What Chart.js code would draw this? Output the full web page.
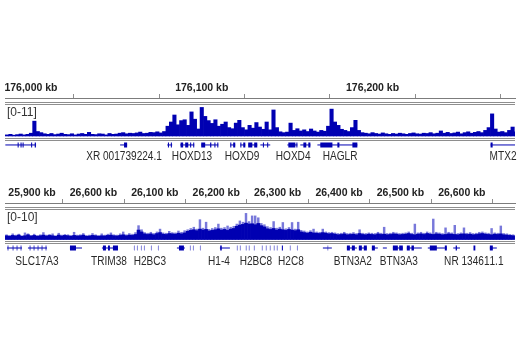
<!DOCTYPE html>
<html>
<head>
<meta charset="utf-8">
<script src="https://cdn.jsdelivr.net/npm/chart.js@4.4.1/dist/chart.umd.min.js"></script>
<style>
  html, body { margin: 0; padding: 0; background: #fff; }
  #wrap { position: relative; width: 520px; height: 350px; }
  canvas { position: absolute; left: 0; }
  #topChart { top: 62px; }
  #bottomChart { top: 166px; }
</style>
</head>
<body>
<div id="wrap">
  <canvas id="topChart" width="520" height="104"></canvas>
  <canvas id="bottomChart" width="520" height="108"></canvas>
</div>
<script>
// ---- top track (chr2, HOXD locus) ----
const topRangeKb = [175984.8, 176283.4];
const topTickValues = [176000, 176050, 176100, 176150, 176200, 176250];
const topTickLabels = ['176,000 kb', '', '176,100 kb', '', '176,200 kb', ''];
const topTrackLabel = '[0-11]';
const topBinStartKb = 175985;
const topBinKb = 2;
const topSignal = [
  0.4, 0.6, 0.3, 0.5, 0.7, 0.4, 0.6, 1.0, 5.3, 1.6, 1.2,
  0.8, 0.6, 0.9, 0.5, 0.7, 1.0, 0.6, 0.5, 0.8, 0.4, 0.7, 0.9, 0.6,
  1.3, 0.6, 0.5, 0.8, 0.7, 0.4, 0.9, 0.6, 0.7, 1.0,
  1.2, 0.8, 1.0, 0.9, 1.1, 1.4, 0.9, 1.0, 1.3, 1.2, 1.5, 1.1, 1.6,
  3.5, 5.0, 7.5, 4.0, 5.5, 5.8, 3.8, 8.6, 6.0, 2.5, 10.2, 7.0, 5.5, 4.5,
  5.8, 3.5, 4.2, 5.0, 3.0, 2.6, 4.6, 5.6, 3.0, 2.2, 3.8, 2.8, 4.8, 3.2,
  2.4, 5.0, 2.2, 9.3, 3.0, 1.5, 1.2, 1.4, 4.6, 2.0, 2.6, 1.8, 2.2, 1.6,
  2.5, 1.8, 1.4, 2.0, 1.7, 3.5, 9.6, 5.0, 3.8, 2.4, 2.0, 1.6, 3.0, 5.6, 2.0, 1.2,
  1.0, 0.8, 1.2, 0.9, 0.7, 1.1, 0.8, 0.6, 0.9, 0.7, 1.0, 0.8, 0.6, 0.9, 1.1,
  0.8, 0.7, 1.0, 0.9, 1.2, 0.8, 1.0,
  1.8, 1.0, 1.3, 0.9, 1.1, 1.4, 0.8, 1.2, 1.5, 1.0, 1.3, 1.6, 1.2, 2.0,
  3.0, 7.9, 2.5, 1.4, 1.6, 1.2, 2.0, 3.2, 1.5
];
const topIntrons = [
  [175985, 176003], [176052.2, 176056.3], [176079.8, 176082.7], [176087.4, 176095.6],
  [176099.7, 176109.7], [176116.7, 176119.6], [176122.6, 176125.5], [176127.2, 176132.5],
  [176134.3, 176140.1], [176150.1, 176156.0], [176157.7, 176163.6], [176167.7, 176191.1],
  [176269.1, 176283.8]
];
const topExons = [
  [175992.2, 175992.8], [175993.9, 175994.5], [175995.1, 175995.7], [176000.1, 176000.7],
  [176002.2, 176002.9], [176054.5, 176056.3], [176080.2, 176080.8], [176081.9, 176082.5],
  [176087.6, 176089.1], [176090.3, 176092.1], [176093.2, 176093.8], [176095.0, 176095.6],
  [176099.7, 176102.0], [176104.9, 176105.6], [176107.4, 176108.0], [176109.1, 176109.7],
  [176116.7, 176117.3], [176118.4, 176119.6], [176122.6, 176123.2], [176124.3, 176125.5],
  [176127.2, 176129.6], [176130.7, 176132.5], [176135.8, 176136.4], [176138.3, 176138.9],
  [176150.7, 176154.8], [176155.4, 176156.0], [176159.5, 176161.2], [176162.4, 176163.6],
  [176169.4, 176176.5], [176179.4, 176180.6], [176188.2, 176191.1], [176269.1, 176270.3]
];
const topGeneNames = ['XR 001739224.1', 'HOXD13', 'HOXD9', 'HOXD4', 'HAGLR', 'MTX2'];
const topGeneKb = [176054.5, 176094.3, 176123.6, 176153.5, 176181.0, 176276.4];

// ---- bottom track (chr6, histone cluster) ----
const bottomRangeKb = [25856, 26686.6];
const bottomTickValues = [25900, 26000, 26100, 26200, 26300, 26400, 26500, 26600];
const bottomTickLabels = ['25,900 kb', '26,600 kb', '26,100 kb', '26,200 kb',
  '26,300 kb', '26,400 kb', '26,500 kb', '26,600 kb'];
const bottomTrackLabel = '[0-10]';
const bottomBinStartKb = 25856;
const bottomBinKb = 5;
const bottomMean = [
  1.2, 1.0, 1.3, 1.1, 1.4, 1.0, 1.2, 1.5, 1.1, 1.3,
  1.0, 1.2, 1.4, 1.1, 1.3, 1.2, 1.0, 1.4, 1.1, 1.3,
  1.2, 1.0, 1.3, 1.1, 1.2, 1.4, 1.0, 1.1, 1.3, 1.2,
  1.0, 1.2, 1.1, 1.3, 1.4, 1.2, 1.1, 1.3, 1.5, 1.2,
  1.4, 1.3, 1.6, 3.0, 2.4, 1.8,
  1.6, 1.8, 1.5, 1.9, 2.2, 1.7, 1.6, 1.9, 1.8, 1.7, 2.0, 1.8, 2.1,
  2.6, 2.9, 3.1, 2.8, 3.3, 3.0, 3.2, 2.7, 2.9, 3.1, 3.4, 3.0, 3.2, 2.9, 3.3, 3.5,
  4.2, 4.6, 4.8, 5.2, 4.9, 5.0, 4.7, 5.1, 4.4, 4.0,
  3.4, 3.2, 3.5, 3.0, 3.3, 3.1, 2.9, 3.2, 3.0, 2.8, 3.1,
  2.4, 2.2, 2.0, 2.3, 2.1, 2.0, 1.9, 2.2, 2.0, 1.8, 1.9,
  1.7, 1.5, 1.6, 1.8, 1.5, 1.6, 1.7, 1.5, 1.9, 1.6,
  1.5, 1.7, 1.6, 1.5, 1.8, 1.6, 1.7, 1.5, 1.6, 1.8,
  1.7, 1.5, 1.6, 1.7, 1.9, 1.6, 1.5, 1.7, 1.8, 1.6,
  1.9, 1.7, 1.6, 1.8, 1.7, 1.5, 1.6, 1.8, 1.7, 1.6,
  1.5, 1.7, 1.8, 1.6, 1.7, 1.5, 1.6, 1.8, 1.9, 1.7,
  1.6, 1.5, 1.7, 1.6, 1.8, 1.5, 1.4, 1.3, 1.2
];
const bottomMax = [
  1.6, 1.4, 1.9, 1.5, 1.8, 1.3, 2.2, 1.9, 1.4, 1.8,
  1.4, 1.6, 2.3, 1.5, 1.7, 1.9, 1.3, 2.1, 1.5, 1.7,
  1.6, 1.4, 2.4, 1.5, 1.6, 2.0, 1.4, 1.5, 2.0, 1.6,
  1.4, 1.9, 1.5, 1.8, 2.2, 1.6, 1.5, 1.9, 2.5, 1.6,
  2.0, 1.8, 2.3, 4.5, 3.2, 2.3,
  2.1, 2.4, 2.0, 2.5, 3.4, 2.2, 2.1, 2.7, 2.3, 2.2, 2.8, 2.4, 2.9,
  3.2, 3.6, 4.0, 3.4, 6.4, 3.7, 5.6, 3.3, 3.6, 3.9, 5.0, 3.7, 3.9, 4.4, 4.0, 4.3,
  5.0, 6.0, 5.6, 8.4, 5.8, 7.6, 7.6, 7.0, 5.2, 4.8,
  4.2, 3.9, 5.8, 3.7, 4.0, 5.5, 3.5, 3.9, 5.5, 3.4, 5.6,
  3.0, 2.8, 2.5, 2.9, 3.4, 2.5, 2.4, 3.4, 2.5, 2.3, 2.4,
  2.2, 2.0, 2.1, 2.4, 2.0, 2.1, 2.3, 2.0, 3.2, 2.1,
  2.0, 2.2, 2.1, 2.0, 2.4, 2.1, 4.0, 2.0, 2.1, 2.4,
  2.2, 2.0, 2.1, 2.2, 2.5, 2.1, 5.0, 2.2, 2.4, 2.1,
  2.5, 2.2, 6.6, 2.4, 2.2, 2.0, 3.8, 2.4, 2.2, 4.6,
  2.0, 2.2, 3.8, 2.1, 2.3, 2.0, 2.1, 2.4, 2.5, 2.2,
  2.1, 3.6, 2.2, 2.1, 4.4, 2.0, 1.9, 1.7, 1.6
];
const bottomIntrons = [
  [25859.3, 25883.7], [25893.4, 25924.4], [25961.8, 25981.4], [26013.9, 26040.0],
  [26136.0, 26149.0], [26206.0, 26222.3], [26373.7, 26388.3], [26412.8, 26429.1],
  [26432.3, 26445.3], [26453.5, 26463.2], [26471.4, 26477.9], [26487.7, 26503.9],
  [26510.4, 26534.8], [26544.6, 26575.6], [26586.0, 26597.0], [26645.6, 26657.0]
];
const bottomExons = [
  [25860.3, 25861.5], [25868.5, 25869.7], [25875.0, 25876.2], [25881.5, 25882.7],
  [25896.2, 25897.4], [25902.7, 25903.9], [25909.2, 25910.4], [25915.7, 25916.9],
  [25922.2, 25923.4], [25961.8, 25971.6], [26015.5, 26020.4], [26023.7, 26026.9],
  [26031.8, 26040.0], [26066.0, 26066.8], [26070.9, 26071.7], [26077.4, 26078.2],
  [26082.3, 26083.1], [26093.7, 26094.5], [26105.1, 26105.9], [26139.3, 26147.4],
  [26157.2, 26158.0], [26162.1, 26162.9], [26173.5, 26174.3], [26206.5, 26209.0],
  [26233.7, 26234.5], [26238.6, 26239.4], [26248.3, 26249.1], [26253.2, 26254.0],
  [26261.4, 26262.2], [26274.4, 26275.2], [26280.9, 26281.7], [26287.4, 26288.2],
  [26293.9, 26294.7], [26298.8, 26299.6], [26306.9, 26308.6], [26320.0, 26320.8],
  [26331.5, 26332.3], [26381.5, 26382.3], [26412.8, 26417.7], [26420.9, 26425.8],
  [26432.3, 26437.2], [26440.4, 26445.3], [26453.5, 26458.4], [26487.7, 26495.8],
  [26498.0, 26503.9], [26510.4, 26515.3], [26518.0, 26522.0], [26547.9, 26559.3],
  [26572.3, 26575.6], [26590.0, 26592.0], [26619.0, 26622.0], [26645.6, 26650.5]
];
const bottomGeneNames = ['SLC17A3', 'TRIM38', 'H2BC3', 'H1-4', 'H2BC8', 'H2C8',
  'BTN3A2', 'BTN3A3', 'NR 134611.1'];
const bottomGeneKb = [25908.0, 26025.3, 26092.0, 26204.4, 26264.6, 26321.6,
  26422.5, 26497.4, 26619.5];

const BLUE = 'rgb(0,0,178)';
const LIGHT_BLUE = 'rgb(120,120,218)';
const GRAY = '#8e8e8e';

Chart.defaults.font.family = "'Liberation Sans', Arial, sans-serif";

function segments(list, y) {
  const pts = [];
  list.forEach(([s, e]) => {
    pts.push({ x: s, y: y }, { x: e, y: y }, { x: e, y: null });
  });
  return pts;
}

function bins(values, start, size) {
  return values.map((v, i) => ({ x: start + size * (i + 0.5), y: v }));
}

const trackDecor = {
  id: 'trackDecor',
  afterDatasetsDraw(chart, args, o) {
    const { ctx, chartArea: a, scales: { x, y } } = chart;
    ctx.save();
    ctx.strokeStyle = GRAY;
    ctx.lineWidth = 1;
    const hline = py => {
      ctx.beginPath();
      ctx.moveTo(a.left, py);
      ctx.lineTo(a.right, py);
      ctx.stroke();
    };
    const base = Math.round(y.getPixelForValue(0));
    hline(a.top + 4.5);
    hline(a.top + 6.5);
    hline(base + 2.5);
    hline(base + 4.5);

    ctx.fillStyle = '#333';
    ctx.textBaseline = 'middle';
    ctx.font = "12px 'Liberation Sans', Arial, sans-serif";
    ctx.fillText(o.label, a.left + 2, a.top + o.labelDy);

    // gene names, condensed like the browser's narrow font
    ctx.fillStyle = '#2a2a2a';
    ctx.textAlign = 'center';
    if ('fontKerning' in ctx) ctx.fontKerning = 'none';
    o.names.forEach((n, i) => {
      ctx.save();
      ctx.translate(x.getPixelForValue(o.kb[i]), y.getPixelForValue(o.nameY));
      ctx.scale(0.84, 1);
      ctx.fillText(n, 0, 0);
      ctx.restore();
    });
    ctx.restore();
  }
};

function drawPanel(id, p) {
  const datasets = [];
  datasets.push({
    type: 'bar', data: bins(p.signal, p.binStart, p.binSize),
    backgroundColor: BLUE, borderWidth: 0,
    barPercentage: 1, categoryPercentage: 1, grouped: false
  });
  if (p.maxSignal) {
    datasets.push({
      type: 'bar', data: bins(p.maxSignal, p.binStart, p.binSize),
      backgroundColor: LIGHT_BLUE, borderWidth: 0,
      barPercentage: 0.8, categoryPercentage: 1, grouped: false
    });
  }
  datasets.push({
    type: 'line', data: segments(p.introns, p.geneY),
    borderColor: BLUE, borderWidth: 1, pointRadius: 0, spanGaps: false, fill: false
  });
  datasets.push({
    type: 'line', data: segments(p.exons, p.geneY),
    borderColor: BLUE, borderWidth: 5, borderCapStyle: 'butt',
    pointRadius: 0, spanGaps: false, fill: false
  });

  new Chart(document.getElementById(id), {
    type: 'bar',
    data: { datasets },
    plugins: [trackDecor],
    options: {
      responsive: false,
      animation: false,
      events: [],
      layout: { padding: { left: 5, right: 5, top: 6, bottom: 2 } },
      plugins: {
        legend: { display: false },
        tooltip: { enabled: false },
        trackDecor: { label: p.label, labelDy: p.labelDy, names: p.names, kb: p.kb, nameY: p.nameY }
      },
      scales: {
        x: {
          type: 'linear',
          position: 'top',
          offset: false,
          min: p.range[0],
          max: p.range[1],
          afterBuildTicks: s => { s.ticks = p.tickValues.map(v => ({ value: v })); },
          afterFit: s => { s.height = p.axisH; s.paddingLeft = 0; s.paddingRight = 0; },
          ticks: {
            autoSkip: false,
            maxRotation: 0,
            padding: 0,
            color: '#222',
            font: { size: 10.5, weight: 'bold' },
            callback: (v, i) => p.tickLabels[i]
          },
          grid: { drawOnChartArea: false, drawTicks: true, tickLength: 4, color: GRAY },
          border: { display: true, color: '#7c7c7c', width: 1 }
        },
        y: { display: false, min: p.yMin, max: p.yMax }
      }
    }
  });
}

drawPanel('topChart', {
  range: topRangeKb, tickValues: topTickValues, tickLabels: topTickLabels,
  signal: topSignal, binStart: topBinStartKb, binSize: topBinKb,
  introns: topIntrons, exons: topExons,
  names: topGeneNames, kb: topGeneKb, label: topTrackLabel, axisH: 30,
  yMin: -10, yMax: 13.57, geneY: -3.2, nameY: -7.5, labelDy: 14.5
});

drawPanel('bottomChart', {
  range: bottomRangeKb, tickValues: bottomTickValues, tickLabels: bottomTickLabels,
  signal: bottomMean, maxSignal: bottomMax, binStart: bottomBinStartKb, binSize: bottomBinKb,
  introns: bottomIntrons, exons: bottomExons,
  names: bottomGeneNames, kb: bottomGeneKb, label: bottomTrackLabel, axisH: 31,
  yMin: -10.32, yMax: 11.59, geneY: -2.7, nameY: -7.1, labelDy: 14.5
});
</script>
</body>
</html>
